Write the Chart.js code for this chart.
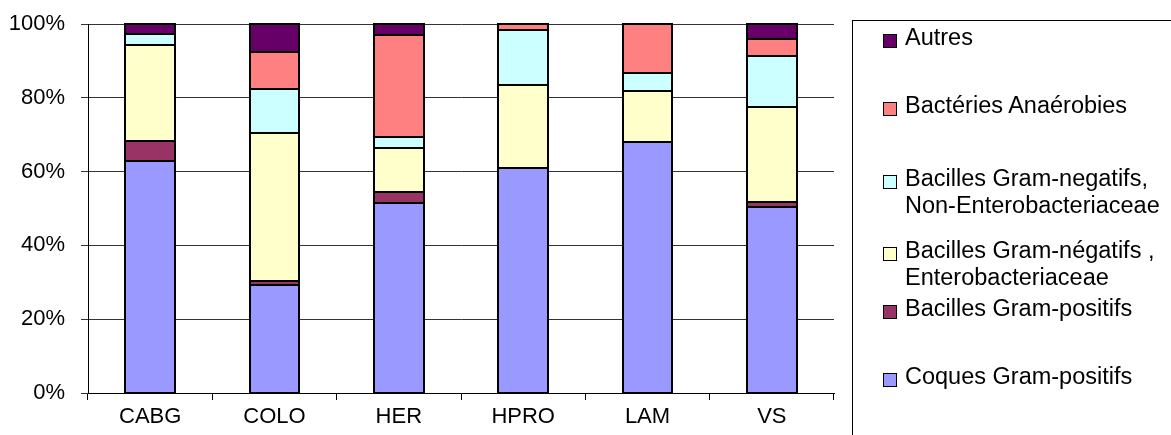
<!DOCTYPE html>
<html>
<head>
<meta charset="utf-8">
<script src="https://cdn.jsdelivr.net/npm/chart.js@4"></script>
<style>
  html, body { margin: 0; padding: 0; background: #fff; }
  #wrap { position: relative; width: 1171px; height: 435px; overflow: hidden; font-family: "Liberation Sans", Arial, sans-serif; }
  #chart { position: absolute; left: 0; top: 0; }
  #legend { position: absolute; left: 852px; top: 20px; width: 340px; height: 430px; border: 1px solid #000; box-sizing: border-box; }
  .item { position: absolute; left: 30px; font-size: 23.5px; line-height: 27px; color: #000; white-space: nowrap; }
  .sw { position: absolute; left: 0; width: 12px; height: 12px; border: 1px solid #000; }
  .txt { position: absolute; left: 22px; }
</style>
</head>
<body>
<div id="wrap">
  <canvas id="chart" width="1171" height="435"></canvas>
  <div id="legend"></div>
</div>
<script>
"use strict";

// categories
var categories = ["CABG", "COLO", "HER", "HPRO", "LAM", "VS"];

// series, bottom to top (percent)
var coquesGramPos   = [63.0, 29.3, 51.4, 61.0, 67.9, 50.5];
var bacillesGramPos = [5.4, 1.1, 3.0, 0, 0, 1.3];
var bacillesEntero  = [26.0, 40.0, 12.1, 22.5, 14.0, 25.6];
var bacillesNonEnt  = [2.9, 12.0, 2.9, 14.9, 4.7, 14.0];
var anaerobies      = [0, 10.0, 27.5, 1.6, 13.4, 4.5];
var autres          = [2.7, 7.6, 3.1, 0, 0, 4.1];

var yTicks = [0, 20, 40, 60, 80, 100];

var series = [
	{ label: "Coques Gram-positifs", data: coquesGramPos, color: "#9999FF" },
	{ label: "Bacilles Gram-positifs", data: bacillesGramPos, color: "#993366" },
	{ label: "Bacilles Gram-négatifs ,\nEnterobacteriaceae", data: bacillesEntero, color: "#FFFFCC" },
	{ label: "Bacilles Gram-negatifs,\nNon-Enterobacteriaceae", data: bacillesNonEnt, color: "#CCFFFF" },
	{ label: "Bactéries Anaérobies", data: anaerobies, color: "#FF8080" },
	{ label: "Autres", data: autres, color: "#660066" }
];

// legend text tops, top entry first
var legendTops = [3, 71, 144, 216, 274, 342];

var font = { family: "'Liberation Sans', Arial, sans-serif", size: 22 };

// black outline round every segment, Excel style
var outlinePlugin = {
	id: "outline",
	afterDatasetsDraw: function (chart) {
		var ctx = chart.ctx;
		ctx.save();
		ctx.strokeStyle = "#000";
		ctx.lineWidth = 2;
		chart.data.datasets.forEach(function (ds, i) {
			chart.getDatasetMeta(i).data.forEach(function (bar, j) {
				if (ds.data[j] == null) return;
				var p = bar.getProps(["x", "y", "base", "width"], true);
				var left = Math.round(p.x - p.width / 2);
				var right = Math.round(p.x + p.width / 2);
				var top = Math.round(Math.min(p.y, p.base));
				var bottom = Math.round(Math.max(p.y, p.base));
				ctx.strokeRect(left, top, right - left, bottom - top);
			});
		});
		ctx.restore();
	}
};

var chart = new Chart(document.getElementById("chart"), {
	type: "bar",
	data: {
		labels: categories,
		datasets: series.map(function (s) {
			return {
				label: s.label,
				// empty segments are not drawn, so no extra outline shows up
				data: s.data.map(function (v) { return v === 0 ? null : v; }),
				backgroundColor: s.color,
				borderWidth: 0,
				inflateAmount: 0,
				categoryPercentage: 1,
				barPercentage: 0.4
			};
		})
	},
	options: {
		responsive: false,
		animation: false,
		devicePixelRatio: 1,
		layout: { padding: { left: 0, top: 24, right: 337, bottom: 0 } },
		plugins: { legend: { display: false }, tooltip: { enabled: false } },
		scales: {
			x: {
				stacked: true,
				offset: true,
				grid: { offset: true, drawOnChartArea: false, drawTicks: true, tickLength: 7, color: "#000" },
				border: { color: "#000", width: 1 },
				ticks: { font: font, color: "#000", padding: 4 },
				afterFit: function (scale) {
					scale.height = 42;
					scale.paddingLeft = 0;
					scale.paddingRight = 0;
				}
			},
			y: {
				stacked: true,
				min: 0,
				max: 100,
				afterBuildTicks: function (scale) {
					scale.ticks = yTicks.map(function (v) { return { value: v }; });
				},
				grid: { color: "#333", tickLength: 7 },
				border: { color: "#000", width: 1 },
				ticks: {
					font: font,
					color: "#000",
					padding: 16,
					callback: function (v) { return v + "%"; }
				},
				afterFit: function (scale) {
					scale.width = 88;
					scale.paddingTop = 0;
					scale.paddingBottom = 0;
				}
			}
		}
	},
	plugins: [outlinePlugin]
});

// legend, reversed so the top series comes first
var legend = document.getElementById("legend");
series.slice().reverse().forEach(function (s, i) {
	var item = document.createElement("div");
	item.className = "item";
	item.style.top = legendTops[i] + "px";
	var sw = document.createElement("span");
	sw.className = "sw";
	sw.style.background = s.color;
	sw.style.top = "10px";
	var txt = document.createElement("span");
	txt.className = "txt";
	txt.innerHTML = s.label.split("\n").join("<br>");
	item.appendChild(sw);
	item.appendChild(txt);
	legend.appendChild(item);
});
</script>
</body>
</html>
